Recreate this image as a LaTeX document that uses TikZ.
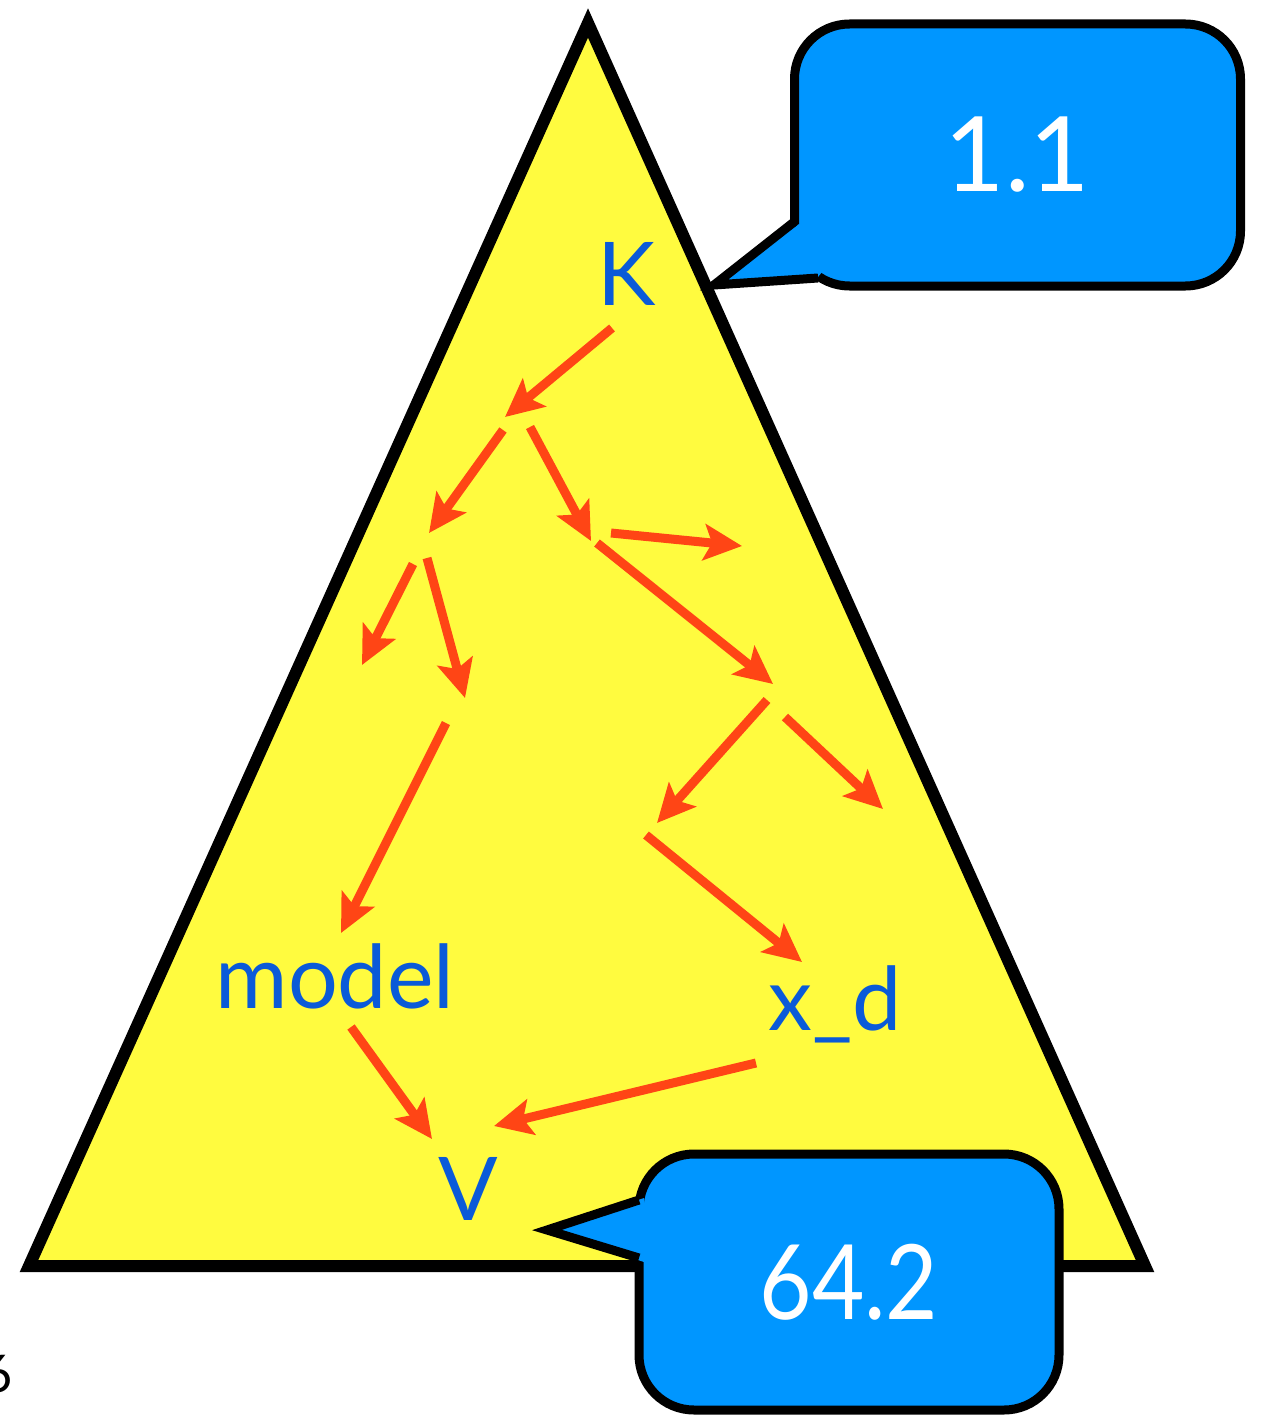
\documentclass[tikz,border=0pt]{standalone}
\usepackage{fontspec}
\setmainfont{Lato}
\usetikzlibrary{arrows.meta}
\definecolor{triyellow}{HTML}{FFFB3F}
\definecolor{callblue}{HTML}{0096FF}
\definecolor{labblue}{HTML}{0A5AD8}
\definecolor{arrred}{HTML}{FF4515}

\begin{document}
\begin{tikzpicture}[x=1pt,y=-1pt,
  lbl/.style={text=labblue,font=\fontsize{88}{88}\selectfont,inner sep=0pt,anchor=base},
  link/.style={-{Stealth[length=38pt,width=36pt,inset=8pt]},line width=9pt,draw=arrred},
  callout/.style={draw=black,fill=callblue,line width=9pt,rounded corners=55pt,text=white,
    font=\fontsize{104}{104}\selectfont,inner sep=0pt},
  tail/.style={line width=9pt,line join=miter}
]
\clip (0,0) rectangle (1260,1415);
\fill[white] (0,0) rectangle (1260,1415);

% the big triangle
\draw[line width=12pt,line join=miter,fill=triyellow] (588,23) -- (1145,1266) -- (29,1266) -- cycle;

% labels
\node[lbl] (K) at (627,305) {K};
\node[lbl] (model) at (335,1008) {model};
\node[lbl] (xd) at (835,1030) {x\_d};
\node[lbl] (V) at (468,1220) {V};

% junction points
\coordinate (t1) at (505,417);
\coordinate (s2) at (503,430);
\coordinate (t2) at (429,533);
\coordinate (s3) at (530,427);
\coordinate (t3) at (591,541);
\coordinate (s4) at (611,533);
\coordinate (t4) at (742,546);
\coordinate (s5) at (597,543);
\coordinate (t5) at (773,684);
\coordinate (s6) at (413,564);
\coordinate (t6) at (362,665);
\coordinate (s7) at (427,558);
\coordinate (t7) at (465,698);
\coordinate (s8) at (446,723);
\coordinate (s9) at (767,700);
\coordinate (t9) at (657,823);
\coordinate (s10) at (785,717);
\coordinate (t10) at (883,809);
\coordinate (s11) at (646,835);

\draw[link] ([shift={(-15,23)}]K.base) -- (t1);
\draw[link] (s2) -- (t2);
\draw[link] (s3) -- (t3);
\draw[link] (s4) -- (t4);
\draw[link] (s5) -- (t5);
\draw[link] (s6) -- (t6);
\draw[link] (s7) -- (t7);
\draw[link] (s8) -- ([shift={(6,-75)}]model.base);
\draw[link] (s9) -- (t9);
\draw[link] (s10) -- (t10);
\draw[link] (s11) -- ([shift={(-33,-68)}]xd.base);
\draw[link] ([shift={(16,19)}]model.base) -- ([shift={(-36,-81)}]V.base);
\draw[link] ([shift={(-79,33)}]xd.base) -- ([shift={(26,-94)}]V.base);

% callouts
\node[callout,minimum width=446pt,minimum height=262pt] (top) at (1017.5,155) {1.1};
\fill[callblue] (799,224) -- (714,285) -- (818,277) -- (840,250) -- cycle;
\draw[tail] (794,222) -- (714,285) -- (818,278);

\node[callout,minimum width=420pt,minimum height=256pt] (bot) at (849,1282) {\scalebox{0.87}[1]{64.2}};
\fill[callblue] (644,1198) -- (547,1230) -- (644,1262) -- cycle;
\draw[tail] (639,1200) -- (547,1230) -- (639,1258);

% page number, cut by the edge
\node[font=\fontsize{52}{52}\selectfont,inner sep=0pt,anchor=base east] (pg) at (13,1392) {6};
\end{tikzpicture}
\end{document}
